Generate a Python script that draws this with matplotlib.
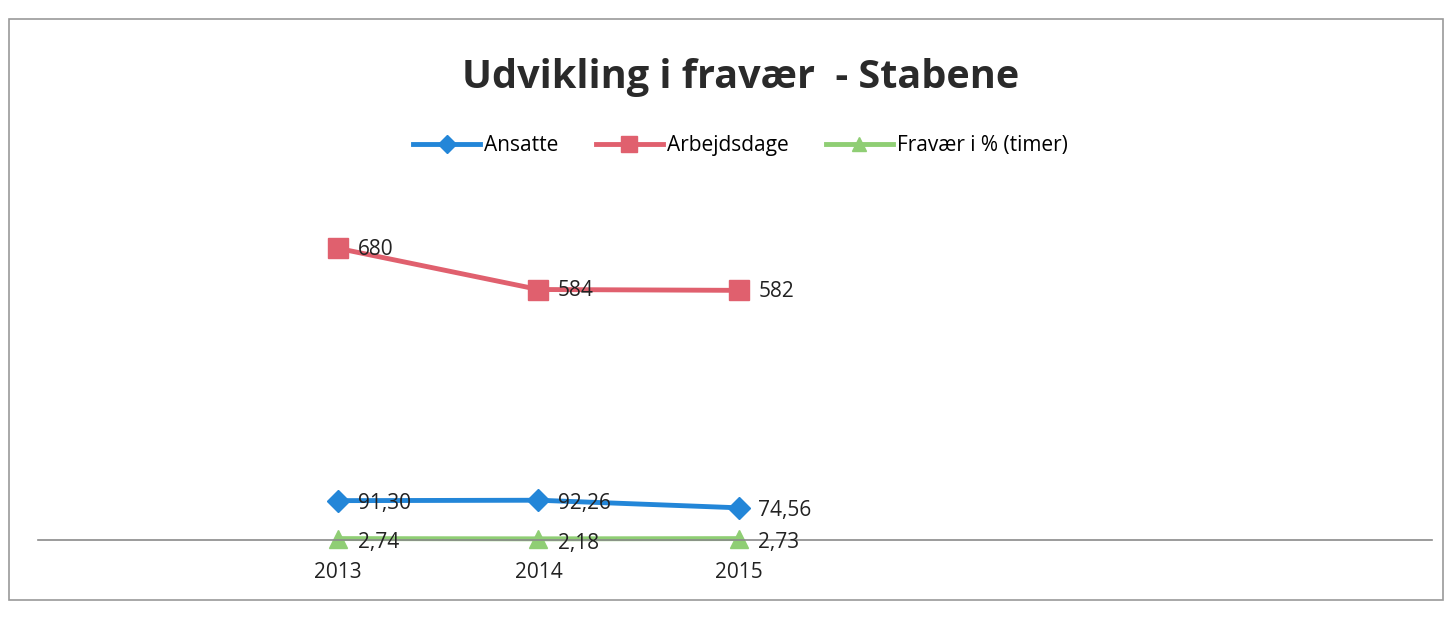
import matplotlib.pyplot as plt
from matplotlib.patches import Rectangle

years = ['2013', '2014', '2015']
ansatte = [91.30, 92.26, 74.56]
arbejdsdage = [680, 584, 582]
fravaer = [2.74, 2.18, 2.73]

series_names = ['Ansatte', 'Arbejdsdage', 'Fravær i % (timer)']
label_ansatte = ['91,30', '92,26', '74,56']
label_arbejdsdage = ['680', '584', '582']
label_fravaer = ['2,74', '2,18', '2,73']

plt.rcParams['font.family'] = ['Open Sans', 'DejaVu Sans']

fig = plt.figure(figsize=(14.52, 6.19), dpi=100)
ax = fig.add_axes([0.026, 0.128, 0.96, 0.54])

x = list(range(len(years)))
blue = '#2386d8'
red = '#e0606e'
green = '#8fce74'

ax.plot(x, ansatte, color=blue, lw=3.5, marker='D', ms=11, label=series_names[0], clip_on=False)
ax.plot(x, arbejdsdage, color=red, lw=3.5, marker='s', ms=14, label=series_names[1], clip_on=False)
ax.plot(x, fravaer, color=green, lw=3.5, marker='^', ms=13, label=series_names[2], clip_on=False)

for xi, v, t in zip(x, ansatte, label_ansatte):
    ax.annotate(t, (xi, v), xytext=(14, -2), textcoords='offset points',
                fontsize=15, color='#222222', va='center')
for xi, v, t in zip(x, arbejdsdage, label_arbejdsdage):
    ax.annotate(t, (xi, v), xytext=(14, -1), textcoords='offset points',
                fontsize=15, color='#222222', va='center')
for xi, v, t in zip(x, fravaer, label_fravaer):
    ax.annotate(t, (xi, v), xytext=(14, -3), textcoords='offset points',
                fontsize=15, color='#222222', va='center')

ax.set_xlim(-1.5, 5.46)
ax.set_ylim(0, 780)
ax.set_xticks(x)
ax.set_xticklabels(years, fontsize=15, color='#222222')
ax.tick_params(axis='x', length=0, pad=16)
ax.set_yticks([])
for s in ['left', 'right', 'top']:
    ax.spines[s].set_visible(False)
ax.spines['bottom'].set_color('#8a8a8a')
ax.spines['bottom'].set_linewidth(1.2)

fig.text(0.51, 0.875, 'Udvikling i fravær  - Stabene', ha='center', va='center',
         fontsize=28.5, fontweight='bold', color='#2a2a2a')

fig.legend(loc='center', bbox_to_anchor=(0.51, 0.765), ncol=3, frameon=False,
           fontsize=15, handlelength=3.2, columnspacing=1.8, handletextpad=0.2,
           markerscale=0.8)

fig.patches.append(Rectangle((0.006, 0.03), 0.988, 0.94, transform=fig.transFigure,
                             fill=False, edgecolor='#9a9a9a', lw=1.2))

fig.savefig('out.png', dpi=100, facecolor='white')
